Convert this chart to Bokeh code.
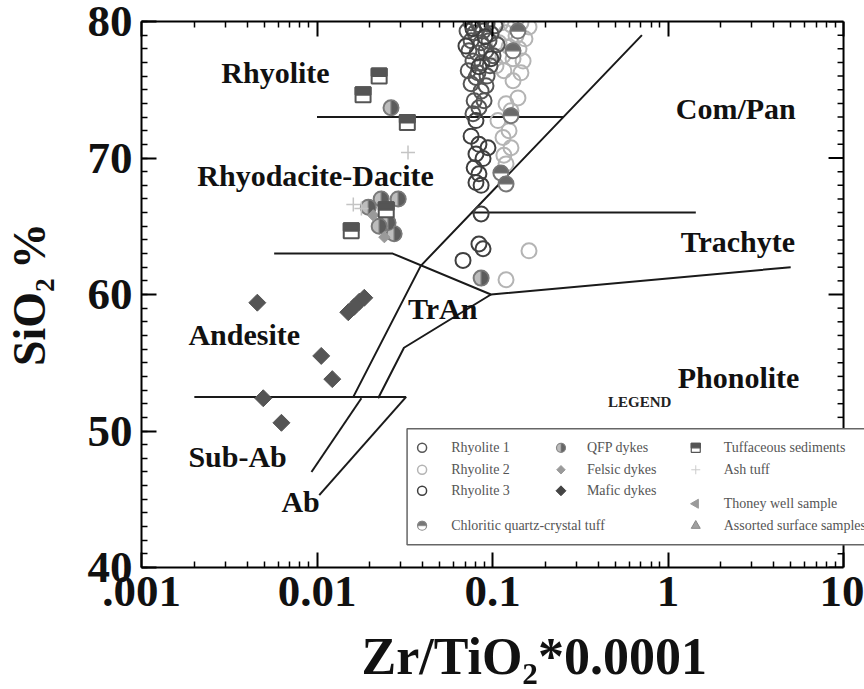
import numpy as np
from bokeh.plotting import figure
from bokeh.models import LogAxis, FixedTicker, Label, CustomJSTickFormatter
from bokeh.embed import file_html
from bokeh.resources import INLINE

# ---------------- data (Zr/TiO2*0.0001 , SiO2 %) ----------------
rh1_x = [0.0755, 0.0837, 0.0931, 0.1033, 0.0716, 0.0794, 0.0883, 0.098, 0.0755, 0.0861,
         0.0955, 0.1062, 0.0734, 0.0817, 0.0918, 0.1007, 0.0774, 0.0871, 0.0968, 0.0727,
         0.0826, 0.0931, 0.0805, 0.0755, 0.0861, 0.0918, 0.0786, 0.0837, 0.0895, 0.0774]
rh1_y = [79.9, 79.76, 79.83, 79.68, 79.3, 79.17, 79.3, 79.1, 78.59, 78.44,
         78.59, 78.3, 77.85, 77.7, 77.85, 77.5, 77.1, 76.97, 76.75, 76.4,
         76.24, 76.0, 75.9, 75.44, 74.9, 75.3, 74.2, 73.68, 74.2, 73.24]

rh2_x = [0.1116, 0.1274, 0.1452, 0.1614, 0.1194, 0.1361, 0.1531, 0.1089, 0.1242, 0.1416,
         0.1148, 0.1309, 0.1493, 0.1161, 0.1309, 0.1396, 0.1194, 0.1274, 0.1074, 0.1242,
         0.1148, 0.1274, 0.1161, 0.1194, 0.1614, 0.1194, 0.1047, 0.1452]
rh2_y = [79.9, 79.76, 79.9, 79.6, 79.17, 78.95, 78.73, 78.44, 78.15, 78.0,
         77.5, 77.27, 77.1, 76.4, 75.66, 74.4, 73.97, 73.46, 72.74, 72.0,
         71.5, 70.75, 70.2, 69.57, 63.2, 61.08, 76.75, 76.24]

rh3_x = [0.0805, 0.0755, 0.0837, 0.0942, 0.0805, 0.0883, 0.0786, 0.0837, 0.0805, 0.0861,
         0.0861, 0.0837, 0.0883, 0.0679, 0.0774, 0.0905, 0.0706, 0.098, 0.0837]
rh3_y = [72.74, 71.6, 71.0, 70.75, 70.3, 69.96, 69.28, 68.84, 68.2, 68.0,
         65.9, 63.7, 63.35, 62.5, 79.47, 78.88, 78.2, 77.27, 76.68]

chl_x = [0.1274, 0.1116, 0.1194, 0.1396, 0.1309]
chl_y = [73.1, 68.9, 68.1, 79.3, 77.85]

qfp_x = [0.0264, 0.0232, 0.029, 0.0196, 0.0254, 0.0275, 0.0861, 0.0226]
qfp_y = [73.68, 67.0, 67.0, 66.4, 65.25, 64.45, 61.2, 65.0]

fel_x = [0.0209, 0.0242]
fel_y = [65.8, 64.2]

maf_x = [0.00457, 0.01057, 0.01222, 0.00494, 0.00627, 0.01507, 0.0163, 0.0174, 0.0186]
maf_y = [59.4, 55.5, 53.8, 52.4, 50.6, 58.7, 59.1, 59.47, 59.76]

tuf_x = [0.0226, 0.0183, 0.0327, 0.0248, 0.01567]
tuf_y = [76.0, 74.63, 72.6, 66.2, 64.67]

ash_x = [0.033, 0.0161, 0.0179]
ash_y = [70.4, 66.6, 66.3]

# classification boundaries (Winchester & Floyd)
bound_xs = [[0.01, 0.255], [0.076, 1.44], [0.0057, 0.027, 0.098, 5.0],
            [0.71, 0.039, 0.0161], [0.0179, 0.0093], [0.098, 0.0313, 0.0223],
            [0.0322, 0.0103], [0.002, 0.0322]]
bound_ys = [[73, 73], [66, 66], [63, 63, 60, 62],
            [79, 62.1, 52.5], [52.4, 47], [60, 56.1, 52.4],
            [52.5, 45.3], [52.5, 52.5]]

field_names = ["Rhyolite", "Rhyodacite-Dacite", "Com/Pan", "Trachyte", "TrAn",
               "Andesite", "Phonolite", "Sub-Ab", "Ab"]
field_x = [0.00285, 0.00208, 1.107, 1.18, 0.033, 0.00185, 1.136, 0.00185, 0.00627]
field_y = [76.24, 68.7, 73.6, 63.86, 58.95, 57.1, 53.9, 48.1, 44.8]

xtick_values = [0.001, 0.01, 0.1, 1, 10]
xtick_labels = [".001", "0.01", "0.1", "1", "10"]
ytick_values = [40, 50, 60, 70, 80]

# ---------------- figure ----------------
W, H = 864, 689
BL, BR, BT, BB = 140, 0, 21, 122
PPD = 175.75                      # pixels per decade on the x axis
X_LO, X_HI_AXIS = 0.001, 10
X_HI = 10 ** (np.log10(X_LO) + (W - BL - BR) / PPD)   # frame runs past the 10 axis end

p = figure(width=W, height=H, x_axis_type="log", x_range=(X_LO, X_HI), y_range=(40, 80),
           output_backend="svg", toolbar_location=None,
           min_border_left=BL, min_border_right=BR, min_border_top=BT, min_border_bottom=BB)
p.xgrid.visible = False
p.ygrid.visible = False
p.outline_line_color = None
p.background_fill_color = "white"
p.border_fill_color = "white"

SERIF = "Liberation Serif"
xminor = [m * 10.0 ** e for e in range(-3, 1) for m in range(2, 10)]
xticker = FixedTicker(ticks=xtick_values, minor_ticks=xminor)
yticker = FixedTicker(ticks=ytick_values, minor_ticks=list(range(40, 81)))
xfmt = CustomJSTickFormatter(args=dict(vals=xtick_values, labs=xtick_labels), code="""
let best = 0, d = Infinity;
for (let i = 0; i < vals.length; i++) {
  const e = Math.abs(Math.log10(vals[i]) - Math.log10(tick));
  if (e < d) { d = e; best = i; }
}
return labs[best];
""")


def style(ax, show=True):
    ax.axis_line_color = "black"
    ax.axis_line_width = 2
    ax.major_tick_in = 15
    ax.major_tick_out = 0
    ax.minor_tick_in = 6
    ax.minor_tick_out = 0
    ax.major_tick_line_width = 2
    ax.minor_tick_line_width = 1.5
    ax.major_tick_line_color = "black"
    ax.minor_tick_line_color = "black"
    ax.major_label_text_font = SERIF
    ax.major_label_text_font_style = "bold"
    ax.major_label_text_color = "#111"
    ax.major_label_text_font_size = "45px" if show else "0px"
    ax.major_label_standoff = 9 if show else 0
    ax.axis_label_text_font = SERIF
    ax.axis_label_text_font_style = "bold"
    ax.axis_label_text_color = "#111"


p.xaxis.ticker = xticker
p.xaxis.formatter = xfmt
p.xaxis.bounds = (X_LO, X_HI_AXIS)
p.yaxis.ticker = yticker
style(p.xaxis[0])
style(p.yaxis[0])
# leading em + thin space shift the centred title to where the reference has it
p.xaxis.axis_label = "\u2003\u2009Zr/TiO\u2082*0.0001"
p.yaxis.axis_label = "SiO\u2082\u2009%"
p.xaxis.axis_label_text_font_size = "52px"
p.yaxis.axis_label_text_font_size = "46px"
p.xaxis.axis_label_standoff = 19
p.yaxis.axis_label_standoff = 30

top = LogAxis(ticker=xticker, formatter=xfmt, bounds=(X_LO, X_HI_AXIS))
style(top, show=False)
p.add_layout(top, "above")

# right-hand frame edge at x = 10 with inward ticks
rt_y = list(range(40, 81))
rt_len = [15 if v in ytick_values else 6 for v in rt_y]
rt_x1 = [X_HI_AXIS * 10 ** (-L / PPD) for L in rt_len]
p.segment(x0=[X_HI_AXIS], y0=[40], x1=[X_HI_AXIS], y1=[80], line_color="black",
          line_width=2, level="underlay")
p.segment(x0=[X_HI_AXIS] * len(rt_y), y0=rt_y, x1=rt_x1, y1=rt_y, line_color="black",
          line_width=[2 if L == 15 else 1.5 for L in rt_len], level="underlay")

# boundaries
p.multi_line(bound_xs, bound_ys, line_color="#1a1a1a", line_width=2)

PPU = (H - BT - BB) / 40.0   # pixels per SiO2 unit
DARK1, DARK3, LIGHT = "#555555", "#3f3f3f", "#b4b4b4"


def circles(xs, ys, color, size, lw=2):
    p.scatter(xs, ys, marker="circle", size=size, line_color=color, line_width=lw,
              fill_alpha=0)


def half_circle(xs, ys, size, start, end, base_fill, half_fill, outline, lw=2):
    p.scatter(xs, ys, marker="circle", size=size, fill_color=base_fill,
              line_color=outline, line_width=lw)
    p.wedge(xs, ys, radius=size / 2.0, radius_units="screen", start_angle=start,
            end_angle=end, fill_color=half_fill, line_color=outline, line_width=lw * 0.6)


def tuff(xs, ys, size, lw=2):
    p.scatter(xs, ys, marker="square", size=size, fill_color="white",
              line_color="#555555", line_width=lw)
    yt = [y + size / 4.0 / PPU for y in ys]
    p.rect(xs, yt, width=size, height=size / 2.0, width_units="screen",
           height_units="screen", fill_color="#555555", line_color="#555555", line_width=lw)


def diamonds(xs, ys, size, color):
    p.scatter(xs, ys, marker="square", angle=np.pi / 4, size=size, fill_color=color,
              line_color=color)


# data marks
circles(rh2_x, rh2_y, LIGHT, 15)
circles(rh1_x, rh1_y, DARK1, 15)
circles(rh3_x, rh3_y, DARK3, 15)
half_circle(chl_x, chl_y, 15, 0, np.pi, "white", "#6a6a6a", "#777777")
half_circle(qfp_x, qfp_y, 15, -np.pi / 2, np.pi / 2, "#bdbdbd", "#5c5c5c", "#7a7a7a")
diamonds(fel_x, fel_y, 8, "#9a9a9a")
diamonds(maf_x, maf_y, 12, "#555555")
tuff(tuf_x, tuf_y, 15)
p.scatter(ash_x, ash_y, marker="cross", size=14, line_color="#c4c4c4", line_width=1.5)

# field labels
for name, fx, fy in zip(field_names, field_x, field_y):
    p.add_layout(Label(x=fx, y=fy, text=name, text_font=SERIF, text_font_style="bold",
                       text_font_size="30px", text_color="#111", text_align="left",
                       text_baseline="middle"))

# ---------------- legend ----------------
p.quad(left=[0.0326], right=[X_HI * 1.2], bottom=[41.66], top=[50.16], fill_color="white",
       line_color="#666666", line_width=1.5, level="underlay")
p.add_layout(Label(x=0.455, y=52.1, text="LEGEND", text_font=SERIF, text_font_style="bold",
                   text_font_size="15px", text_color="#222", text_baseline="middle"))

mk_x = [0.0397, 0.2455, 1.439]
lb_x = [0.0581, 0.345, 2.077]
row_y = [48.77, 47.16, 45.62, 44.67, 43.06]

circles([mk_x[0]], [row_y[0]], DARK1, 9, 1.5)
circles([mk_x[0]], [row_y[1]], LIGHT, 9, 1.5)
circles([mk_x[0]], [row_y[2]], DARK3, 9, 1.5)
half_circle([mk_x[0]], [row_y[4]], 9, 0, np.pi, "white", "#777777", "#888888", 1.2)
half_circle([mk_x[1]], [row_y[0]], 9, -np.pi / 2, np.pi / 2, "#bdbdbd", "#666666", "#888888", 1.2)
diamonds([mk_x[1]], [row_y[1]], 6, "#9a9a9a")
diamonds([mk_x[1]], [row_y[2]], 7, "#444444")
tuff([mk_x[2]], [row_y[0]], 9, 1.2)
p.scatter([mk_x[2]], [row_y[1]], marker="cross", size=9, line_color="#cccccc", line_width=1)
p.scatter([mk_x[2]], [row_y[3]], marker="triangle", angle=np.pi / 2, size=9,
          fill_color="#9a9a9a", line_color="#9a9a9a")
p.scatter([mk_x[2]], [row_y[4]], marker="triangle", size=9, fill_color="#a0a0a0",
          line_color="#888888")

legend_entries = [(0, 0, "Rhyolite 1"), (0, 1, "Rhyolite 2"), (0, 2, "Rhyolite 3"),
                  (0, 4, "Chloritic quartz-crystal tuff"),
                  (1, 0, "QFP dykes"), (1, 1, "Felsic dykes"), (1, 2, "Mafic dykes"),
                  (2, 0, "Tuffaceous sediments"), (2, 1, "Ash tuff"),
                  (2, 3, "Thoney well sample"), (2, 4, "Assorted surface samples")]
for c, r, t in legend_entries:
    p.add_layout(Label(x=lb_x[c], y=row_y[r], text=t, text_font=SERIF,
                       text_font_size="14px", text_color="#555555", text_baseline="middle"))

open("out.html", "w").write(file_html(p, INLINE))
